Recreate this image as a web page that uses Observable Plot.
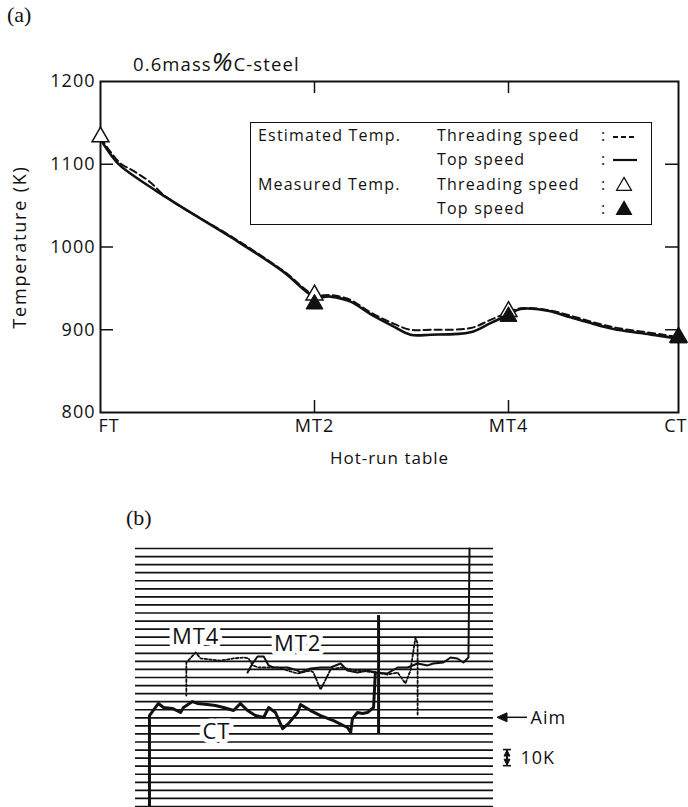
<!DOCTYPE html>
<html><head><meta charset="utf-8">
<script src="https://cdn.jsdelivr.net/npm/d3@7"></script>
<script src="https://cdn.jsdelivr.net/npm/@observablehq/plot@0.6"></script>
<style>
html,body{margin:0;padding:0;background:#fff;}
#page{position:relative;width:688px;height:807px;overflow:hidden;font-family:"Open Sans",sans-serif;color:#111;}
.abs{position:absolute;white-space:nowrap;}
.serif{font-family:"Liberation Serif","DejaVu Serif",serif;}
.pa text,.pb text{letter-spacing:1px;}
#legend{position:absolute;left:250px;top:122px;width:402px;height:103px;border:1.6px solid #111;box-sizing:border-box;background:#fff;font-size:16px;letter-spacing:1.2px;}
#legend .abs{line-height:20px;}
#ylab{position:absolute;font-size:18px;letter-spacing:1.8px;white-space:nowrap;transform:translate(-50%,-50%) rotate(-90deg);}
</style></head><body><div id="page"></div>
<script>
// ---------- Panel (a) data ----------
const stations = ["FT", "MT2", "MT4", "CT"];
const stationPos = [0, 214, 408, 578];           // position along the hot-run table
const yTicks = [800, 900, 1000, 1100, 1200];

// Estimated temperature, top speed (solid)
const estTopX = [0,10,20,67,133,183,214,230,250,270,290,310,330,370,390,408,420,447,470,493,513,540,563,578];
const estTopT = [1130,1112,1098,1059,1010,970,940,940,934,919,906,894,894,897,908,918,925,923,915,907,901,896,892,889];
// Estimated temperature, threading speed (dashed)
const estThrX = [0,10,20,33,50,63,80,133,183,214,230,250,270,290,310,330,370,390,408,420,447,470,493,513,540,563,578];
const estThrT = [1132,1115,1101,1092,1078,1063,1049,1011,971,942,942,936,921,909,900,900,902,912,921,926,924,917,909,903,898,894,891];
// Measured temperatures
const measThrX = [0, 214, 408, 578];
const measThrT = [1133, 942, 922, 891];
const measTopX = [214, 408, 578];
const measTopT = [931, 916, 890];

// legend
const legendGroup = ["Estimated Temp.", "", "Measured Temp.", ""];
const legendSpeed = ["Threading speed", "Top speed", "Threading speed", "Top speed"];
const legendSymbol = ["dash", "line", "open", "filled"];

// ---------- Panel (b) data (deviation from aim, K) ----------
const gridK = [-55,-50,-45,-40,-35,-30,-25,-20,-15,-10,-5,0,5,10,15,20,25,30,35,40,45,50,55,60,65,70,75,80,85,90,95,100,105];
const ctT = [3.9,3.9,6.4,7.8,10.3,12.6,13.4,15.9,17.3,20.1,22.3,24.6,27.4,29.3,31.3,33.5,35.8,37.2,39.1,41.1,42.7,45.3,46.1,48.9,51.7,55.3,59.2,60.1,60.6,62.0,63.4,64.8,66.5,67.0];
const ctK = [-55,1.4,8.9,6.4,5.8,3.3,6.4,10.1,8.9,8.2,7.6,6.4,4.5,8.9,4.5,1.4,0.2,6.4,3.3,-6.7,-3.6,3.3,8.2,4.5,1.4,-1.7,-6.0,-9.1,-0.5,3.3,2.7,3.3,6.4,28.1];
const mt2T = [31.3,32.7,34.1,35.8,37.2,38.5,42.5,45.3,46.1,48.9,51.7,54.5,57.3,59.2,62.0,64.8,67.0,70.4,73.2,76.0,78.8,81.6,83.2,86.0,88.0,89.9,91.6,93.0,93.3];
const mt2K = [28.1,33.7,38.0,38.0,32.5,31.2,31.2,29.3,28.1,30.6,31.2,31.2,33.7,29.3,28.1,29.3,28.1,27.5,31.2,31.2,33.7,32.5,33.7,34.3,37.4,36.8,34.3,37.4,105];
const mt4T = [14.2,14.2,16.8,18.2,20.9,23.7,27.4,30.2,31.6,32.7,34.4,36.9,39.7,42.5,45.3,48.9,49.7,51.7,54.5,57.3,62.0,67.0,70.4,73.2,75.4,76.8,78.2,78.8,78.8];
const mt4K = [13.8,34.3,40.5,36.8,36.1,35.5,36.8,37.4,36.8,32.5,31.2,31.2,31.2,29.3,27.5,29.3,28.1,17.5,30.0,31.2,29.3,28.1,26.8,28.1,21.3,29.3,49.8,46.1,1.4];
const endMarkT = [67.9];
const endMarkTop = [63.4];
const endMarkBottom = [-9.8];
const bLabels = ["MT4", "MT2", "CT"];
const bLabelT = [16.8, 45.3, 22.6];
const bLabelK = [50.4, 45.5, -8.5];
const aimK = [0];
const tenKRange = [-20, -30];

const FONT = '"Open Sans", sans-serif';
const page = document.getElementById("page");
const zip = (xs, ys) => xs.map((x, i) => ({x, y: ys[i]}));

// ---------- Panel (a) ----------
const plotA = Plot.plot({
  width: 688, height: 480,
  marginLeft: 100, marginRight: 10, marginTop: 81, marginBottom: 68,
  className: "pa",
  style: {fontFamily: FONT, background: "transparent", color: "#111", overflow: "visible"},
  x: {domain: [0, 578], axis: null},
  y: {domain: [800, 1200], axis: null},
  marks: [
    Plot.frame({stroke: "#111", strokeWidth: 2}),
    // inward ticks: left, right, bottom, top
    Plot.tickY(yTicks.slice(1, -1), {y: d => d, insetRight: 565, stroke: "#111", strokeWidth: 1.5}),
    Plot.tickY(yTicks.slice(1, -1), {y: d => d, insetLeft: 565, stroke: "#111", strokeWidth: 1.5}),
    Plot.tickX(stationPos.slice(1, -1), {x: d => d, insetTop: 319, stroke: "#111", strokeWidth: 1.5}),
    Plot.tickX(stationPos.slice(1, -1), {x: d => d, insetBottom: 319, stroke: "#111", strokeWidth: 1.5}),
    // tick labels
    Plot.text(yTicks, {y: d => d, text: d => String(d), frameAnchor: "left", textAnchor: "end", dx: -5, fontSize: 18}),
    Plot.text(stations.slice(0, 1), {x: (d, i) => stationPos[i], text: d => d, frameAnchor: "bottom", textAnchor: "start", dx: -2, dy: 19, fontSize: 18}),
    Plot.text(stations.slice(1, 3), {x: (d, i) => stationPos[i + 1], text: d => d, frameAnchor: "bottom", textAnchor: "middle", dy: 19, fontSize: 18}),
    Plot.text(stations.slice(3), {x: (d, i) => stationPos[i + 3], text: d => d, frameAnchor: "bottom", textAnchor: "end", dx: 9, dy: 19, fontSize: 18}),
    Plot.text(["Hot-run table"], {frameAnchor: "bottom", textAnchor: "middle", dy: 51, fontSize: 17}),
    // estimated curves
    Plot.line(zip(estThrX, estThrT), {x: "x", y: "y", stroke: "#111", strokeWidth: 2, strokeDasharray: "7,4", curve: "catmull-rom"}),
    Plot.line(zip(estTopX, estTopT), {x: "x", y: "y", stroke: "#111", strokeWidth: 2.6, curve: "catmull-rom"}),
    // measured
    Plot.dot(zip(measThrX, measThrT), {x: "x", y: "y", symbol: "triangle", r: 6.3, fill: "white", stroke: "#111", strokeWidth: 1.5}),
    Plot.dot(zip(measTopX, measTopT), {x: "x", y: "y", symbol: "triangle", r: 6.3, fill: "#111", stroke: "#111", strokeWidth: 1})
  ]
});
const divA = document.createElement("div");
divA.className = "abs"; divA.style.left = "0px"; divA.style.top = "0px";
divA.appendChild(plotA);
page.appendChild(divA);

function addText(html, left, top, size, extra = "") {
  const d = document.createElement("div");
  d.className = "abs " + extra;
  d.style.left = left + "px"; d.style.top = top + "px"; d.style.fontSize = size + "px";
  d.innerHTML = html;
  page.appendChild(d);
  return d;
}
addText("(a)", 7, 2, 22, "serif");
const ttl = addText('0.6mass<span style="font-size:26px;font-style:italic">%</span>C-steel', 133, 43, 18.5);
ttl.style.letterSpacing = "1.1px";

// y-axis title, centred on the y scale's middle
{
  const ysA = plotA.scale("y");
  const yl = document.createElement("div");
  yl.id = "ylab";
  yl.textContent = "Temperature (K)";
  yl.style.left = "19px";
  yl.style.top = ysA.apply((ysA.domain[0] + ysA.domain[1]) / 2) + "px";
  page.appendChild(yl);
}

// legend
const legend = document.createElement("div");
legend.id = "legend";
const rowY = [13, 37, 62, 86];
legendGroup.forEach((g, i) => {
  const mk = (txt, left) => {
    const s = document.createElement("div");
    s.className = "abs"; s.style.left = left + "px"; s.style.top = (rowY[i] - 11) + "px";
    s.textContent = txt; legend.appendChild(s);
  };
  if (g) mk(g, 7);
  mk(legendSpeed[i], 186);
  mk(":", 350);
  const sv = d3.create("svg").attr("width", 30).attr("height", 20)
    .style("position", "absolute").style("left", "360px").style("top", (rowY[i] - 10) + "px");
  const sym = legendSymbol[i];
  if (sym === "dash") sv.append("line").attr("x1", 2).attr("x2", 26).attr("y1", 11).attr("y2", 11).attr("stroke", "#111").attr("stroke-width", 2).attr("stroke-dasharray", "5,3");
  if (sym === "line") sv.append("line").attr("x1", 2).attr("x2", 26).attr("y1", 10).attr("y2", 10).attr("stroke", "#111").attr("stroke-width", 2.2);
  if (sym === "open" || sym === "filled") sv.append("path").attr("d", d3.symbol(d3.symbolTriangle, 95)()).attr("transform", "translate(13,11)")
    .attr("fill", sym === "open" ? "white" : "#111").attr("stroke", "#111").attr("stroke-width", 1.3);
  legend.appendChild(sv.node());
});
page.appendChild(legend);

// ---------- Panel (b) ----------
const plotB = Plot.plot({
  width: 688, height: 277,
  marginTop: 18, marginBottom: 1, marginLeft: 135, marginRight: 195,
  className: "pb",
  style: {fontFamily: FONT, background: "transparent", color: "#111", overflow: "visible"},
  x: {domain: [0, 100], axis: null},
  y: {domain: [-55, 105], axis: null},
  marks: [
    Plot.ruleY(gridK, {y: d => d, stroke: "#111", strokeWidth: 1.7}),
    Plot.line(zip(mt4T, mt4K), {x: "x", y: "y", stroke: "#111", strokeWidth: 1.8, strokeDasharray: "2.5,2"}),
    Plot.line(zip(mt2T, mt2K), {x: "x", y: "y", stroke: "#111", strokeWidth: 2, strokeLinejoin: "round"}),
    Plot.line(zip(ctT, ctK), {x: "x", y: "y", stroke: "#111", strokeWidth: 3, strokeLinejoin: "round"}),
    Plot.ruleX(endMarkT, {x: d => d, y1: (d, i) => endMarkBottom[i], y2: (d, i) => endMarkTop[i], stroke: "#111", strokeWidth: 3}),
    Plot.text(bLabels, {x: (d, i) => bLabelT[i], y: (d, i) => bLabelK[i], text: d => d, fontSize: 22, fill: "#111", stroke: "white", strokeWidth: 9}),
    Plot.text(["Aim"], {y: aimK, frameAnchor: "right", textAnchor: "start", dx: 37, fontSize: 18}),
    Plot.text(["10K"], {y: [(tenKRange[0] + tenKRange[1]) / 2], frameAnchor: "right", textAnchor: "start", dx: 27, fontSize: 18})
  ]
});
// arrow for aim and 10K bracket, positioned through the plot's scales
{
  const ys = plotB.scale("y"), xs = plotB.scale("x");
  const xr = xs.apply(xs.domain[1]);
  const g = d3.select(plotB).append("g").attr("stroke", "#111").attr("fill", "#111");
  const ya = ys.apply(aimK[0]);
  g.append("line").attr("x1", xr + 8).attr("x2", xr + 34).attr("y1", ya).attr("y2", ya).attr("stroke-width", 1.5);
  g.append("path").attr("d", `M${xr + 4},${ya} l10,-4.5 v9 z`);
  const y1 = ys.apply(tenKRange[0]), y2 = ys.apply(tenKRange[1]), xb = xr + 14;
  g.append("line").attr("x1", xb).attr("x2", xb).attr("y1", y1).attr("y2", y2).attr("stroke-width", 2);
  g.append("line").attr("x1", xb - 4).attr("x2", xb + 4).attr("y1", y1).attr("y2", y1).attr("stroke-width", 1.6);
  g.append("line").attr("x1", xb - 4).attr("x2", xb + 4).attr("y1", y2).attr("y2", y2).attr("stroke-width", 1.6);
  g.append("path").attr("d", `M${xb},${y1 + 0.5} l-3,6 h6 z`);
  g.append("path").attr("d", `M${xb},${y2 - 0.5} l-3,-6 h6 z`);
}
const divB = document.createElement("div");
divB.className = "abs"; divB.style.left = "0px"; divB.style.top = "530px";
divB.appendChild(plotB);
page.appendChild(divB);
addText("(b)", 126, 505, 22, "serif");
</script></body></html>
